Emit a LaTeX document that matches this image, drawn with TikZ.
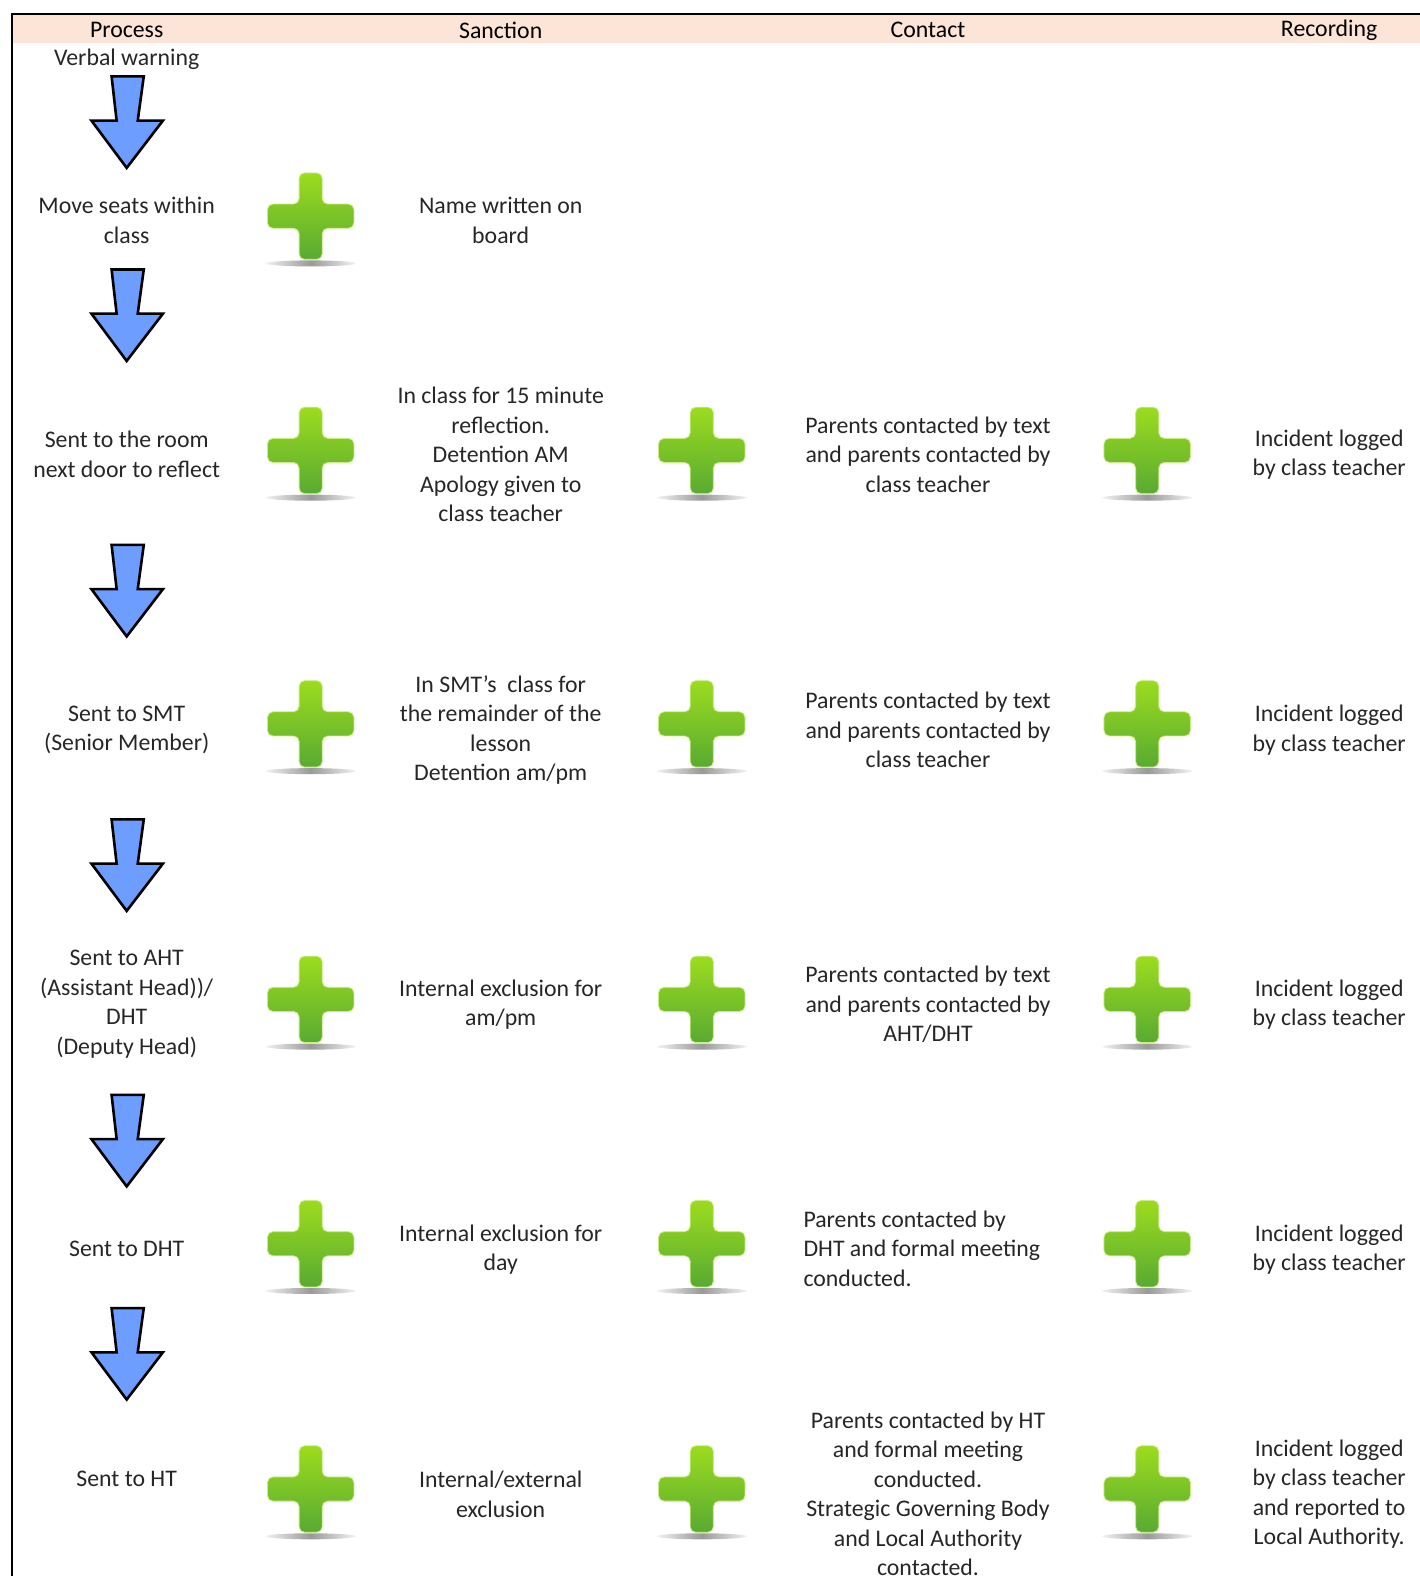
\documentclass[tikz,border=0pt]{standalone}
\usepackage{fontspec}
\setmainfont{Carlito}
\definecolor{hdr}{RGB}{252,228,214}
\definecolor{arrowblue}{RGB}{108,157,255}
\definecolor{plustop}{RGB}{156,220,30}
\definecolor{plusbot}{RGB}{88,170,50}
\definecolor{txt}{RGB}{38,38,38}
\tikzset{
  body/.style={align=center, text=txt, inner sep=0pt, font=\fontsize{23.8bp}{29.5bp}\selectfont},
  head/.style={anchor=center, inner sep=0pt, text=black, font=\fontsize{23.8bp}{28bp}\selectfont},
  pics/greenplus/.style={code={
    \shade[left color=gray!10, right color=gray!10, middle color=gray!80]
      (0,47) ellipse [x radius=45, y radius=3];
    \shade[top color=plustop, bottom color=plusbot, draw=plustop!55!white, line width=0.8bp, rounded corners=5.5bp]
      (-11.5,-43) -- (11.5,-43) -- (11.5,-12) -- (43,-12) -- (43,12) -- (11.5,12)
      -- (11.5,43) -- (-11.5,43) -- (-11.5,12) -- (-43,12) -- (-43,-12) -- (-11.5,-12) -- cycle;
  }},
  pics/bluearrow/.style={code={
    \draw[fill=arrowblue, line width=2.6bp, line join=miter]
      (-15,0) -- (17,0) -- (11,44) -- (36,44) -- (0,91) -- (-35,44) -- (-10,44) -- cycle;
  }}
}
\begin{document}
\begin{tikzpicture}[x=1.0054bp, y=-1.0054bp]
% header band and frame
\fill[hdr] (12,14) rectangle (1420,43);
\draw[line width=2.5bp] (1420,14) -- (12,14) -- (12,1580);
\node[head] (hProcess) at (126,30) {Process};
\node[head] (hSanction) at (498,30) {Sanction};
\node[head] (hContact) at (923,30) {Contact};
\node[head] (hRecording) at (1322,30) {Recording};

% arrows
\pic at (126,76) {bluearrow};
\pic at (126,268) {bluearrow};
\pic at (126,542) {bluearrow};
\pic at (126,815) {bluearrow};
\pic at (126,1089) {bluearrow};
\pic at (126,1301) {bluearrow};

% plus signs
\pic at (309,215) {greenplus};
\foreach \yy in {448,720,994,1237,1481}{
  \pic at (309,\yy) {greenplus};
  \pic at (698,\yy) {greenplus};
  \pic at (1141,\yy) {greenplus};
}

% process column
\node[body] (p0) at (126,59) {Verbal warning};
\node[body] (p1) at (126,219) {Move seats within\\class};
\node[body] (p2) at (126,452) {Sent to the room\\next door to reflect};
\node[body] (p3) at (126,726) {Sent to SMT\\(Senior Member)};
\node[body] (p4) at (126,999) {Sent to AHT\\(Assistant Head))/\\DHT\\(Deputy Head)};
\node[body] (p5) at (126,1242) {Sent to DHT};
\node[body] (p6) at (126,1471) {Sent to HT};

% sanction column
\node[body] (s1) at (498,219) {Name written on\\board};
\node[body] (s2) at (498,452) {In class for 15 minute\\reflection.\\Detention AM\\Apology given to\\class teacher};
\node[body] (s3) at (498,726) {In SMT’s\ \ class for\\the remainder of the\\lesson\\Detention am/pm};
\node[body] (s4) at (498,999) {Internal exclusion for\\am/pm};
\node[body] (s5) at (498,1243) {Internal exclusion for\\day};
\node[body] (s6) at (498,1486) {Internal/external\\exclusion};

% contact column
\node[body] (c2) at (923,452) {Parents contacted by text\\and parents contacted by\\class teacher};
\node[body] (c3) at (923,726) {Parents contacted by text\\and parents contacted by\\class teacher};
\node[body] (c4) at (923,999) {Parents contacted by text\\and parents contacted by\\AHT/DHT};
\node[body, align=left, anchor=west] (c5) at (799,1242) {Parents contacted by\\DHT and formal meeting\\conducted.};
\node[body] (c6) at (923,1486) {Parents contacted by HT\\and formal meeting\\conducted.\\Strategic Governing Body\\and Local Authority\\contacted.};

% recording column
\node[body] (r2) at (1322,452) {Incident logged\\by class teacher};
\node[body] (r3) at (1322,726) {Incident logged\\by class teacher};
\node[body] (r4) at (1322,999) {Incident logged\\by class teacher};
\node[body] (r5) at (1322,1243) {Incident logged\\by class teacher};
\node[body] (r6) at (1322,1486) {Incident logged\\by class teacher\\and reported to\\Local Authority.};

\pgfresetboundingbox
\useasboundingbox (0,0) rectangle (1411.4,1567.5);
\end{tikzpicture}
\end{document}
